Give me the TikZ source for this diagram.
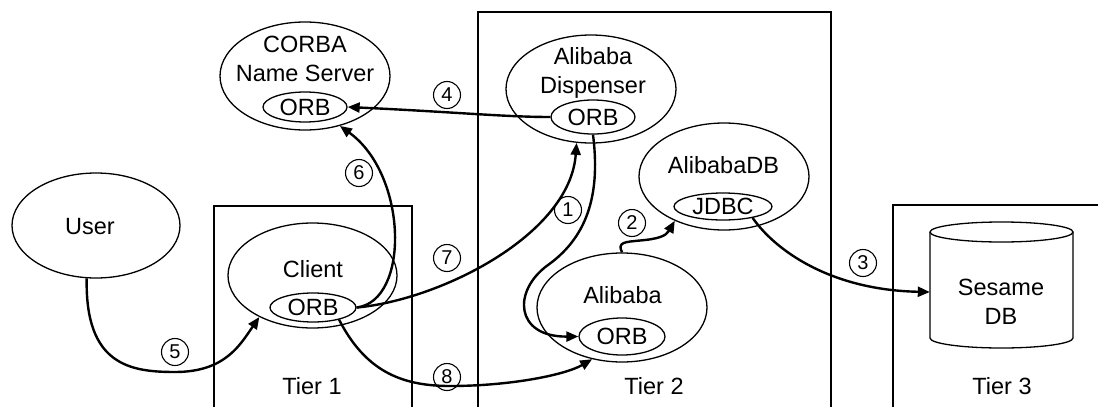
\documentclass[tikz,border=0pt]{standalone}
\usepackage{fontspec}
\setmainfont{Liberation Sans}
\usetikzlibrary{shapes.geometric,arrows.meta}
\begin{document}
\begin{tikzpicture}[x=1pt,y=-1pt,
  outer/.style={draw,ellipse,line width=1.3pt,inner sep=0pt},
  orb/.style={draw,ellipse,line width=1.3pt,inner sep=0pt,font=\fontsize{23.5}{29.5}\selectfont},
  lbl/.style={inner sep=0pt,align=center,font=\fontsize{23.5}{29.5}\selectfont},
  num/.style={draw,circle,line width=1.1pt,inner sep=0pt,minimum size=27pt,font=\fontsize{20}{20}\selectfont},
  conn/.style={line width=2.4pt,-{Triangle[length=12pt,width=10pt]}},
  tier/.style={line width=1.3pt},
  cyl/.style={line width=1.3pt}
]
\useasboundingbox (0,0) rectangle (1098,407);

% tier boxes
\draw[tier] (214,407) |- (412,206) -- (412,407);
\draw[tier] (478,407) |- (831,12) -- (831,407);
\draw[tier] (893,407) |- (1098,205);

% CORBA Name Server
\node[outer,minimum width=170pt,minimum height=108pt] (ns) at (305,76) {};
\node[lbl] (nsT) at (305,59) {CORBA\\Name Server};
\node[orb,minimum width=84pt,minimum height=30pt] (nsORB) at (305,107) {ORB};

% Alibaba Dispenser
\node[outer,minimum width=170pt,minimum height=108pt] (disp) at (591,89) {};
\node[lbl] (dispT) at (593,73) {Alibaba\\Dispenser};
\node[orb,minimum width=84pt,minimum height=34pt] (dispORB) at (593,117) {ORB};

% AlibabaDB
\node[outer,minimum width=170pt,minimum height=107pt] (db) at (724,176.5) {};
\node[lbl] (dbT) at (723.5,165) {AlibabaDB};
\node[orb,minimum width=98pt,minimum height=27pt] (jdbc) at (723,206.5) {JDBC};

% Alibaba
\node[outer,minimum width=170pt,minimum height=109pt] (alib) at (622,307.5) {};
\node[lbl] (alibT) at (622.5,295) {Alibaba};
\node[orb,minimum width=86pt,minimum height=37pt] (alibORB) at (622,336.5) {ORB};

% User
\node[outer,minimum width=168pt,minimum height=105pt] (user) at (96,225.5) {};
\node[lbl] (userT) at (90,227) {User};

% Client
\node[outer,minimum width=169pt,minimum height=105pt] (client) at (312.5,275.5) {};
\node[lbl] (clientT) at (313,269) {Client};
\node[orb,minimum width=86pt,minimum height=29pt] (clientORB) at (313,307.5) {ORB};

% Sesame DB cylinder
\draw[cyl] (930,232) -- (930,338) arc[start angle=180,end angle=360,x radius=71.5pt,y radius=10pt] -- (1073,232);
\draw[cyl] (1001.5,232) ellipse [x radius=71.5pt,y radius=10pt];
\node[inner sep=0pt,minimum width=143pt,minimum height=116pt] (sesame) at (1001.5,292) {};
\node[lbl] (sesameT) at (1001,302) {Sesame\\DB};

% tier labels
\node[lbl] (t1) at (312,386) {Tier 1};
\node[lbl] (t2) at (654,386) {Tier 2};
\node[lbl] (t3) at (1002,386) {Tier 3};

% numbers
\node[num] (n1) at (568,210) {1};
\node[num] (n2) at (632,223) {2};
\node[num] (n3) at (863,263) {3};
\node[num] (n4) at (447,95) {4};
\node[num] (n5) at (175,352) {5};
\node[num] (n6) at (359,173) {6};
\node[num] (n7) at (447,258) {7};
\node[num] (n8) at (447,377) {8};

% connectors
\draw[conn] (dispORB.west) .. controls (505,117) and (455,112) .. (nsORB.east);
\draw[conn] (clientORB.east) .. controls (410,301) and (408,175) .. (ns.-55);
\draw[conn] (clientORB.east) .. controls (440,300) and (570,235) .. (disp.255);
\draw[conn] (dispORB.south) .. controls (600,190) and (590,235) .. (548,265) .. controls (512,291) and (515,337) .. (alibORB.west);
\draw[conn] (alib.north) .. controls (617,242) and (625,242) .. (640,240.5) .. controls (658,239) and (666,236) .. (db.222);
\draw[conn] (jdbc.-21) .. controls (775,250) and (830,290) .. (sesame.west);
\draw[conn] (user.260) .. controls (85,365) and (130,372) .. (175,372) .. controls (225,372) and (240,345) .. (client.218);
\draw[conn] (clientORB.-25) .. controls (365,370) and (400,386) .. (450,386) .. controls (510,386) and (565,375) .. (alib.240);
\end{tikzpicture}
\end{document}
